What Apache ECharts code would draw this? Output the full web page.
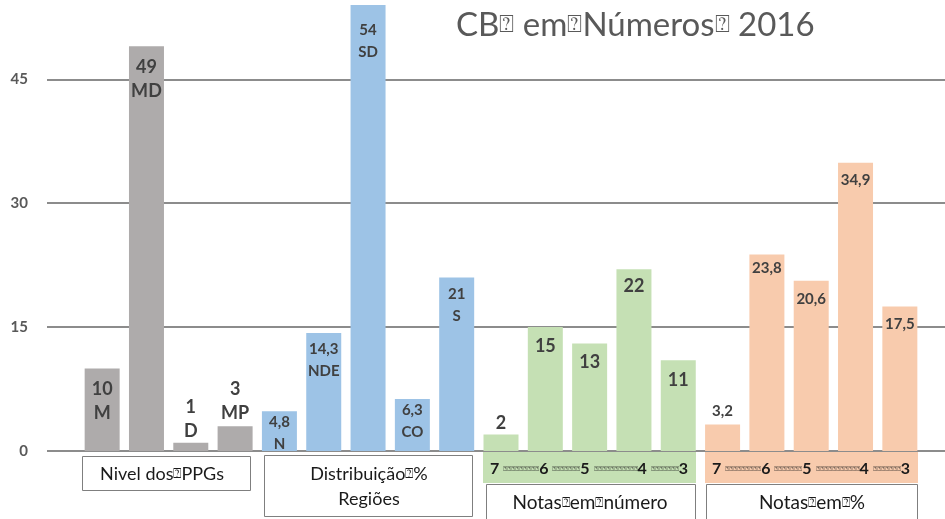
<!DOCTYPE html>
<html>
<head>
<meta charset="utf-8">
<script src="https://cdn.jsdelivr.net/npm/echarts@6/dist/echarts.min.js"></script>
<style>
  html, body { margin: 0; padding: 0; background: #fff; }
  #chart { width: 945px; height: 519px; }
</style>
</head>
<body>
<div id="chart"></div>
<script>
// categories (bar codes), values and the group each bar belongs to
const categories = ['M', 'MD', 'D', 'MP', 'N', 'NDE', 'SD', 'CO', 'S', '7', '6', '5', '4', '3', '7', '6', '5', '4', '3'];
const values = [10, 49, 1, 3, 4.8, 14.3, 54, 6.3, 21, 2, 15, 13, 22, 11, 3.2, 23.8, 20.6, 34.9, 17.5];
const groups = [0, 0, 0, 0, 1, 1, 1, 1, 1, 2, 2, 2, 2, 2, 3, 3, 3, 3, 3];
const groupNames = ['Nivel dos{q|\u2370}PPGs', 'Distribui\u00e7\u00e3o{q|\u2370}%\nRegi\u00f5es', 'Notas{q|\u2370}em{q|\u2370}n\u00famero', 'Notas{q|\u2370}em{q|\u2370}%'];
const yTicks = [0, 15, 30, 45];
const title = 'CB{q|\u2370} em{q|\u2370}N\u00fameros{q|\u2370} 2016';

// label styling per group and gap between label and bar end (px)
const colors = ['#AEABAB', '#9DC3E6', '#C5E0B4', '#F8CBAD'];
const labelFont = [
  { fontSize: 18, lineHeight: 24 },
  { fontSize: 15, lineHeight: 22 },
  { fontSize: 18, lineHeight: 20 },
  { fontSize: 15, lineHeight: 18 }
];
const labelGap = [9, 9, 0, 1, 0, 5, 14, 0, 6, 1, 9, 9, 7, 10, 4, 5, 9, 8, 9];

const items = values.map((v, i) => {
  const g = groups[i];
  const f = labelFont[g];
  return {
    value: v,
    itemStyle: { color: colors[g] },
    label: {
      position: v < 4 ? 'top' : 'insideTop',
      distance: labelGap[i],
      fontSize: f.fontSize,
      lineHeight: f.lineHeight
    }
  };
});

const chart = echarts.init(document.getElementById('chart'));
const font = 'Lato, "Open Sans", sans-serif';
const q = '\u2370';
const qRich = size => ({ q: { fontSize: size, fontFamily: 'DejaVu Sans', fill: '#1a1a1a', color: '#1a1a1a' } });
const scale = (a, b, c, d) => '7 {q|' + q.repeat(a) + '}6 {q|' + q.repeat(b) + '}5 {q|' + q.repeat(c) + '}4 {q|' + q.repeat(d) + '}3';

chart.setOption({
  animation: false,
  title: {
    text: title,
    left: 451,
    top: 4,
    textStyle: {
      fontFamily: font, fontSize: 33, fontWeight: 'normal', color: '#595959',
      rich: { q: { fontSize: 25, fontFamily: 'DejaVu Sans', color: '#595959' } }
    }
  },
  grid: [
    { left: 47, right: 0, top: 0, bottom: 68 },
    { left: 80, right: 23, top: 0, bottom: 68 }
  ],
  xAxis: [
    { gridIndex: 0, type: 'value', show: false, min: 0, max: 1 },
    { gridIndex: 1, type: 'category', data: categories, show: false }
  ],
  yAxis: [
    {
      gridIndex: 0, type: 'value', min: 0, max: 54.6, interval: 15,
      axisLine: { show: false }, axisTick: { show: false },
      axisLabel: {
        margin: 19, color: '#595959', fontFamily: font, fontWeight: 'bold', fontSize: 15,
        formatter: v => yTicks.includes(v) ? String(v) : ''
      },
      splitLine: { showMaxLine: false, lineStyle: { color: '#666', width: 1.5 } }
    },
    { gridIndex: 1, type: 'value', min: 0, max: 54.6, show: false }
  ],
  series: [{
    type: 'bar',
    xAxisIndex: 1,
    yAxisIndex: 1,
    barWidth: 35,
    data: items,
    label: {
      show: true,
      color: '#404040',
      fontFamily: font,
      fontWeight: 'bold',
      formatter: p => {
        const g = groups[p.dataIndex];
        const v = String(p.value).replace('.', ',');
        return g < 2 ? v + '\n' + categories[p.dataIndex] : v;
      }
    }
  }],
  graphic: [
    // coloured bands with the grade scale under the last two groups
    { type: 'rect', shape: { x: 483, y: 452, width: 213, height: 31 }, style: { fill: colors[2] } },
    { type: 'rect', shape: { x: 705, y: 452, width: 213, height: 31 }, style: { fill: colors[3] } },
    {
      type: 'text', x: 589, y: 469,
      style: { text: scale(9, 7, 11, 7), align: 'center', verticalAlign: 'middle', font: 'bold 16px ' + font, fill: '#1a1a1a', rich: qRich(7) }
    },
    {
      type: 'text', x: 811, y: 469,
      style: { text: scale(9, 7, 11, 7), align: 'center', verticalAlign: 'middle', font: 'bold 16px ' + font, fill: '#1a1a1a', rich: qRich(7) }
    },
    // group caption boxes
    { type: 'rect', shape: { x: 82.5, y: 456.5, width: 168, height: 34 }, style: { fill: '#fff', stroke: '#7f7f7f', lineWidth: 1 } },
    { type: 'text', x: 162, y: 474, style: { text: groupNames[0], align: 'center', verticalAlign: 'middle', font: '18px ' + font, fill: '#1a1a1a', rich: qRich(14) } },
    { type: 'rect', shape: { x: 264.5, y: 455.5, width: 208, height: 61 }, style: { fill: '#fff', stroke: '#7f7f7f', lineWidth: 1 } },
    { type: 'text', x: 369, y: 487, style: { text: groupNames[1], align: 'center', verticalAlign: 'middle', font: '18px ' + font, lineHeight: 25, fill: '#1a1a1a', rich: qRich(14) } },
    { type: 'rect', shape: { x: 486.5, y: 484.5, width: 209, height: 40 }, style: { fill: '#fff', stroke: '#7f7f7f', lineWidth: 1 } },
    { type: 'text', x: 590, y: 503, style: { text: groupNames[2], align: 'center', verticalAlign: 'middle', font: '19px ' + font, fill: '#1a1a1a', rich: qRich(14) } },
    { type: 'rect', shape: { x: 706.5, y: 484.5, width: 211, height: 40 }, style: { fill: '#fff', stroke: '#7f7f7f', lineWidth: 1 } },
    { type: 'text', x: 812, y: 503, style: { text: groupNames[3], align: 'center', verticalAlign: 'middle', font: '19px ' + font, fill: '#1a1a1a', rich: qRich(14) } }
  ]
});
</script>
</body>
</html>
